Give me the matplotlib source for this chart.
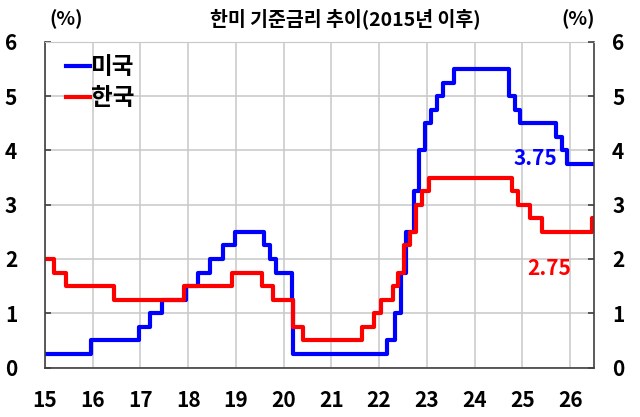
import matplotlib
matplotlib.use("Agg")
import matplotlib.pyplot as plt

plt.rcParams['font.family'] = ['Noto Sans CJK KR', 'DejaVu Sans']

# step dates as decimal years (year - 2000), rate in effect from that date
us_x = [15.0, 15.96, 16.96, 17.21, 17.46, 17.96, 18.21, 18.46, 18.73, 18.97,
        19.58, 19.71, 19.84, 20.17, 20.2, 22.17, 22.34, 22.46, 22.57, 22.72,
        22.84, 22.96, 23.09, 23.21, 23.34, 23.57, 24.71, 24.85, 24.96, 25.71,
        25.83, 25.94, 26.5]
us_y = [0.25, 0.5, 0.75, 1.0, 1.25, 1.5, 1.75, 2.0, 2.25, 2.5,
        2.25, 2.0, 1.75, 1.25, 0.25, 0.5, 1.0, 1.75, 2.5, 3.25,
        4.0, 4.5, 4.75, 5.0, 5.25, 5.5, 5.0, 4.75, 4.5, 4.25,
        4.0, 3.75, 3.75]

kr_x = [15.0, 15.19, 15.44, 16.44, 17.91, 18.91, 19.54, 19.78, 20.2, 20.4,
        21.64, 21.9, 22.03, 22.28, 22.4, 22.53, 22.65, 22.78, 22.9, 23.04,
        24.78, 24.9, 25.15, 25.41, 26.46, 26.5]
kr_y = [2.0, 1.75, 1.5, 1.25, 1.5, 1.75, 1.5, 1.25, 0.75, 0.5,
        0.75, 1.0, 1.25, 1.5, 1.75, 2.25, 2.5, 3.0, 3.25, 3.5,
        3.25, 3.0, 2.75, 2.5, 2.75, 2.75]

years = list(range(15, 27))
yticks = [0, 1, 2, 3, 4, 5, 6]

fig = plt.figure(figsize=(6.4, 4.17), dpi=100)
ax = fig.add_axes([0.0703, 0.1187, 0.8578, 0.7806])

ax.step(us_x, us_y, where='post', color='#0000ff', lw=3.0, label='미국')
ax.step(kr_x, kr_y, where='post', color='#ff0000', lw=3.0, label='한국')

ax.set_xlim(15, 26.5)
ax.set_ylim(0, 6)
ax.set_xticks(years)
ax.set_xticklabels([str(y) for y in years])
ax.set_yticks(yticks)
ax.grid(True, color='#c8c8c8', lw=1.1)
ax.set_axisbelow(True)

for s in ['left', 'right', 'bottom']:
    ax.spines[s].set_color('#404040')
    ax.spines[s].set_linewidth(1.2)
ax.spines['top'].set_color('#c8c8c8')

ax.tick_params(axis='x', length=0, pad=16, labelsize=15)
ax.tick_params(axis='y', direction='in', length=4, width=1.2, color='#404040',
               labelsize=15, pad=20)

# right-hand axis with the same scale
ax2 = ax.twinx()
ax2.set_ylim(0, 6)
ax2.set_yticks(yticks)
ax2.tick_params(axis='y', direction='in', length=4, width=1.2, color='#404040',
                labelsize=15, pad=13)
for s in ax2.spines.values():
    s.set_visible(False)

for lab in ax.get_xticklabels() + ax.get_yticklabels() + ax2.get_yticklabels():
    lab.set_fontweight('bold')

ax.text(25.27, 3.86, '3.75', color='#0000ff', fontsize=15, fontweight='bold',
        ha='center', va='center')
ax.text(25.57, 1.83, '2.75', color='#ff0000', fontsize=15, fontweight='bold',
        ha='center', va='center')

leg = ax.legend(loc='upper left', bbox_to_anchor=(0.0, 1.025), frameon=False,
                handlelength=1.0, handletextpad=0.05, labelspacing=0.3,
                prop={'size': 17, 'weight': 'bold'})

fig.text(0.539, 0.955, '한미 기준금리 추이(2015년 이후)', ha='center', va='center',
         fontsize=14, fontweight='bold')
fig.text(0.103, 0.955, '(%)', ha='center', va='center', fontsize=14, fontweight='bold')
fig.text(0.903, 0.955, '(%)', ha='center', va='center', fontsize=14, fontweight='bold')

fig.savefig('out.png', dpi=100)
